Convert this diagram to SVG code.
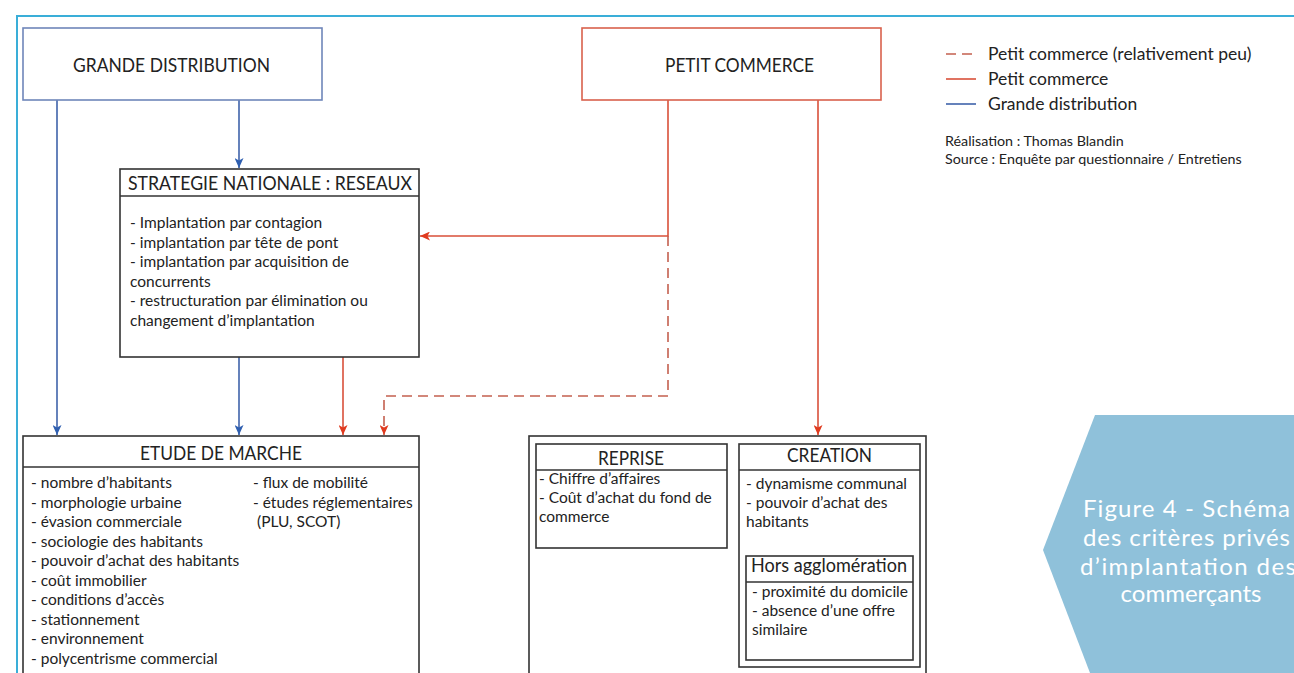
<svg xmlns="http://www.w3.org/2000/svg" width="1294" height="673" viewBox="0 0 1294 673">
<style>
text{font-family:"Lato","Liberation Sans",sans-serif;fill:#222}
.t{font-size:19.5px}
.tm{text-anchor:middle}
.li{font-size:15.5px}
.lg{font-size:17.5px}
.cr{font-size:14.3px}
.box{fill:#fff;stroke:#333;stroke-width:1.6}
.blue{stroke:#3f63aa;stroke-width:1.6;fill:none}
.red{stroke:#d9503a;stroke-width:1.6;fill:none}
.dash{stroke:#c4604f;stroke-width:1.6;fill:none;stroke-dasharray:10 6}
.cap{font-size:24px;fill:#fff}
</style>
<defs>
<marker id="ab" viewBox="0 0 10 9" refX="10" refY="4.5" markerWidth="11" markerHeight="9" markerUnits="userSpaceOnUse" orient="auto"><path d="M0,0 L10,4.5 L0,9 L2.5,4.5 z" fill="#2f5fb0"/></marker>
<marker id="ar" viewBox="0 0 10 9" refX="10" refY="4.5" markerWidth="11" markerHeight="9" markerUnits="userSpaceOnUse" orient="auto"><path d="M0,0 L10,4.5 L0,9 L2.5,4.5 z" fill="#e03a1e"/></marker>
</defs>
<rect width="1294" height="673" fill="#fff"/>
<path d="M17,690 V16 H1294" fill="none" stroke="#3aaed8" stroke-width="2"/>

<g id="connectors">
<path class="blue" d="M57,100 V435" marker-end="url(#ab)" stroke="#5a6f9c"/>
<path class="blue" d="M239,100 V168" marker-end="url(#ab)"/>
<path class="blue" d="M239,357 V435" marker-end="url(#ab)"/>
<path class="red" d="M343,357 V435" marker-end="url(#ar)"/>
<path class="red" d="M668,100 V236 H420" marker-end="url(#ar)"/>
<path class="dash" d="M668,236 V396 H384 V435" marker-end="url(#ar)"/>
<path class="red" d="M818,100 V435" stroke="#b96a5e" marker-end="url(#ar)"/>
</g>

<g id="grande-distribution">
<rect x="23" y="28" width="299" height="72" fill="#fff" stroke="#6f86ba" stroke-width="1.6"/>
<text class="t" x="73" y="72" textLength="197" lengthAdjust="spacingAndGlyphs">GRANDE DISTRIBUTION</text>
</g>

<g id="petit-commerce">
<rect x="582" y="28" width="299" height="72" fill="#fff" stroke="#d9614d" stroke-width="1.6"/>
<text class="t" x="665" y="72" textLength="149" lengthAdjust="spacingAndGlyphs">PETIT COMMERCE</text>
</g>

<g id="legend">
<line class="dash" x1="946" y1="54" x2="976" y2="54" stroke-dasharray="9 6"/>
<line class="red" x1="946" y1="79" x2="976" y2="79"/>
<line class="blue" x1="946" y1="104" x2="976" y2="104"/>
<text class="lg" x="988" y="60">Petit commerce (relativement peu)</text>
<text class="lg" x="988" y="85">Petit commerce</text>
<text class="lg" x="988" y="110">Grande distribution</text>
<text class="cr" x="945" y="146">Réalisation : Thomas Blandin</text>
<text class="cr" x="945" y="164">Source : Enquête par questionnaire / Entretiens</text>
</g>

<g id="strategie">
<rect class="box" x="120" y="169" width="299" height="188"/>
<line x1="120" y1="196" x2="419" y2="196" stroke="#333" stroke-width="1.6"/>
<text class="t" x="128" y="190" textLength="284" lengthAdjust="spacingAndGlyphs">STRATEGIE NATIONALE : RESEAUX</text>
<text class="li" x="130" y="228">- Implantation par contagion</text>
<text class="li" x="130" y="247.5">- implantation par tête de pont</text>
<text class="li" x="130" y="267">- implantation par acquisition de</text>
<text class="li" x="130" y="286.5">concurrents</text>
<text class="li" x="130" y="306">- restructuration par élimination ou</text>
<text class="li" x="130" y="325.5">changement d’implantation</text>
</g>

<g id="etude-de-marche">
<rect class="box" x="23" y="436" width="396" height="260"/>
<line x1="23" y1="467" x2="419" y2="467" stroke="#333" stroke-width="1.6"/>
<text class="t" x="140" y="460" textLength="162" lengthAdjust="spacingAndGlyphs">ETUDE DE MARCHE</text>
<text class="li" x="31" y="488">- nombre d’habitants</text>
<text class="li" x="31" y="507.5">- morphologie urbaine</text>
<text class="li" x="31" y="527">- évasion commerciale</text>
<text class="li" x="31" y="546.5">- sociologie des habitants</text>
<text class="li" x="31" y="566">- pouvoir d’achat des habitants</text>
<text class="li" x="31" y="585.5">- coût immobilier</text>
<text class="li" x="31" y="605">- conditions d’accès</text>
<text class="li" x="31" y="624.5">- stationnement</text>
<text class="li" x="31" y="644">- environnement</text>
<text class="li" x="31" y="663.5">- polycentrisme commercial</text>
<text class="li" x="253" y="488">- flux de mobilité</text>
<text class="li" x="253" y="507.5">- études réglementaires</text>
<text class="li" x="257" y="527">(PLU, SCOT)</text>
</g>

<g id="petit-commerce-criteres">
<rect class="box" x="529" y="436" width="397" height="260"/>
</g>

<g id="reprise">
<rect class="box" x="536" y="444" width="191" height="104"/>
<line x1="536" y1="470" x2="727" y2="470" stroke="#333" stroke-width="1.6"/>
<text class="t" x="598" y="465" textLength="66" lengthAdjust="spacingAndGlyphs">REPRISE</text>
<text class="li" x="539" y="484">- Chiffre d’affaires</text>
<text class="li" x="539" y="503">- Coût d’achat du fond de</text>
<text class="li" x="539" y="522">commerce</text>
</g>

<g id="creation">
<rect class="box" x="739" y="444" width="181" height="223"/>
<line x1="739" y1="470" x2="920" y2="470" stroke="#333" stroke-width="1.6"/>
<text class="t" x="787" y="462" textLength="85" lengthAdjust="spacingAndGlyphs">CREATION</text>
<text class="li" x="746" y="489">- dynamisme communal</text>
<text class="li" x="746" y="508">- pouvoir d’achat des</text>
<text class="li" x="746" y="527">habitants</text>
</g>

<g id="hors-agglomeration">
<rect class="box" x="746" y="556" width="167" height="104"/>
<line x1="746" y1="582" x2="913" y2="582" stroke="#333" stroke-width="1.6"/>
<text class="t" x="751" y="572" style="font-size:18.5px" textLength="156" lengthAdjust="spacingAndGlyphs">Hors agglomération</text>
<text class="li" x="752" y="597">- proximité du domicile</text>
<text class="li" x="752" y="616">- absence d’une offre</text>
<text class="li" x="752" y="635">similaire</text>
</g>

<g id="figure-caption">
<polygon points="1095,415 1294,415 1294,673 1090,673 1043,550" fill="#8fc1da"/>
<text class="cap" x="1083" y="517" textLength="207" lengthAdjust="spacing">Figure 4 - Schéma</text>
<text class="cap" x="1083" y="546" textLength="207" lengthAdjust="spacing">des critères privés</text>
<text class="cap" x="1080" y="575" textLength="216" lengthAdjust="spacing">d’implantation des</text>
<text class="cap" x="1191" y="602" text-anchor="middle">commerçants</text>
</g>
</svg>
